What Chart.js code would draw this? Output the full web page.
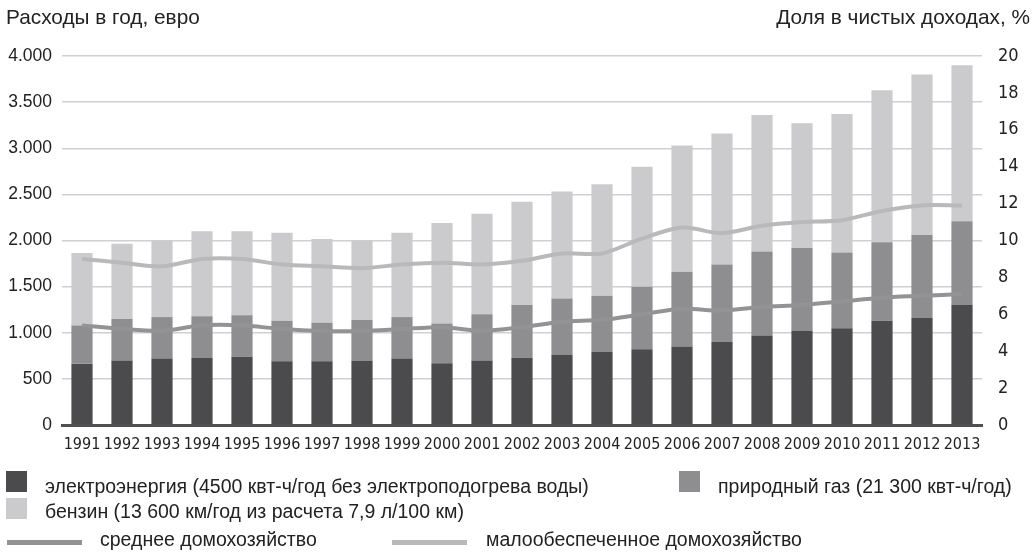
<!DOCTYPE html>
<html lang="ru">
<head>
<meta charset="utf-8">
<script src="https://cdn.jsdelivr.net/npm/chart.js@4.4.1/dist/chart.umd.min.js"></script>
<style>
  html, body { margin: 0; padding: 0; background: #fff; }
  body { width: 1036px; height: 552px; position: relative; overflow: hidden;
         font-family: "Liberation Sans", Arial, sans-serif; color: #222; }
  #wrap { position: absolute; left: 0; top: 0; width: 1036px; height: 552px; }
  .ttl { position: absolute; top: 5px; font-size: 20.8px; line-height: 24px; white-space: nowrap; }
  .lg { position: absolute; font-size: 19.5px; white-space: nowrap; line-height: 22px; }
  .sq { position: absolute; width: 21px; height: 21px; }
  .ln { position: absolute; width: 75px; height: 5px; }
</style>
</head>
<body>
<div id="wrap"><canvas id="chart" width="1036" height="552"></canvas></div>

<div class="ttl" style="left:6px;">Расходы в год, евро</div>
<div class="ttl" style="right:6px;">Доля в чистых доходах, %</div>

<div class="sq" style="left:6px; top:471px; background:#4b4b4d;"></div>
<div class="lg" style="left:45px; top:475px;">электроэнергия (4500 квт-ч/год без электроподогрева воды)</div>
<div class="sq" style="left:679px; top:471px; background:#8e8e91;"></div>
<div class="lg" style="left:718px; top:475px;">природный газ (21 300 квт-ч/год)</div>
<div class="sq" style="left:6px; top:498px; background:#cbcbcd;"></div>
<div class="lg" style="left:45px; top:500px;">бензин (13 600 км/год из расчета 7,9 л/100 км)</div>
<div class="ln" style="left:7px; top:540px; background:#939395;"></div>
<div class="lg" style="left:100px; top:528px;">среднее домохозяйство</div>
<div class="ln" style="left:392px; top:540px; background:#b9b9bb;"></div>
<div class="lg" style="left:486px; top:528px;">малообеспеченное домохозяйство</div>

<script>
// Годы
const years = ["1991","1992","1993","1994","1995","1996","1997","1998","1999","2000","2001",
  "2002","2003","2004","2005","2006","2007","2008","2009","2010","2011","2012","2013"];

// Расходы в год, евро
const electricity = [665, 700, 720, 725, 740, 690, 690, 700, 720, 670, 700,
  730, 760, 790, 820, 850, 900, 970, 1020, 1050, 1130, 1160, 1300];
const naturalGas = [415, 450, 450, 455, 450, 440, 420, 440, 450, 430, 500,
  570, 610, 610, 680, 810, 840, 910, 900, 820, 850, 900, 910];
const petrol = [785, 815, 830, 920, 910, 955, 905, 860, 915, 1090, 1090,
  1120, 1160, 1210, 1300, 1370, 1420, 1480, 1350, 1500, 1650, 1740, 1690];

// Доля в чистых доходах, %
const avgHousehold = [5.4, 5.2, 5.1, 5.4, 5.4, 5.2, 5.1, 5.1, 5.2, 5.3, 5.1,
  5.3, 5.6, 5.7, 6.0, 6.3, 6.2, 6.4, 6.5, 6.7, 6.9, 7.0, 7.1];
const lowIncome = [9.0, 8.8, 8.6, 9.0, 9.0, 8.7, 8.6, 8.5, 8.7, 8.8, 8.7,
  8.9, 9.3, 9.3, 10.1, 10.7, 10.4, 10.8, 11.0, 11.1, 11.6, 11.9, 11.9];

const leftTicks = [0, 500, 1000, 1500, 2000, 2500, 3000, 3500, 4000];
const rightTicks = [0, 2, 4, 6, 8, 10, 12, 14, 16, 18, 20];

const bar = (label, data, color) => ({
  type: "bar", label, data, backgroundColor: color, yAxisID: "y",
  stack: "s", order: 2, barPercentage: 0.53, categoryPercentage: 1
});
const line = (label, data, color) => ({
  type: "line", label, data, borderColor: color, borderWidth: 4,
  pointRadius: 0, tension: 0.3, yAxisID: "y1", order: 1, fill: false
});

const narrow = "'Liberation Sans Narrow', 'DejaVu Sans Condensed', sans-serif";

const ctx = document.getElementById("chart").getContext("2d");
new Chart(ctx, {
  data: {
    labels: years,
    datasets: [
      line("среднее домохозяйство", avgHousehold, "#939395"),
      line("малообеспеченное домохозяйство", lowIncome, "#b9b9bb"),
      bar("электроэнергия", electricity, "#4b4b4d"),
      bar("природный газ", naturalGas, "#8e8e91"),
      bar("бензин", petrol, "#cbcbcd")
    ]
  },
  options: {
    responsive: false,
    animation: false,
    layout: { padding: { top: 56, left: 0, right: 0, bottom: 0 } },
    plugins: { legend: { display: false }, tooltip: { enabled: false } },
    scales: {
      x: {
        stacked: true,
        grid: { display: false },
        border: { display: true, color: "#505052", width: 3 },
        ticks: {
          color: "#222", maxRotation: 0, autoSkip: false, padding: 2,
          font: { family: narrow, size: 16 }
        },
        afterFit: s => { s.height = 127; }
      },
      y: {
        stacked: true, min: 0, max: 4000,
        afterBuildTicks: s => { s.ticks = leftTicks.map(v => ({ value: v })); },
        grid: { color: "#d0d0d2", lineWidth: 1.5, drawTicks: false },
        border: { display: false },
        ticks: {
          color: "#222", padding: 10,
          font: { family: "'Liberation Sans', sans-serif", size: 17.5 },
          callback: v => v >= 1000 ? Math.floor(v / 1000) + "." + String(v % 1000).padStart(3, "0") : String(v)
        },
        afterFit: s => { s.width = 62; }
      },
      y1: {
        position: "right", min: 0, max: 20,
        afterBuildTicks: s => { s.ticks = rightTicks.map(v => ({ value: v })); },
        grid: { display: false },
        border: { display: false },
        ticks: {
          color: "#222", padding: 8,
          font: { family: narrow, size: 18 }
        },
        afterFit: s => { s.width = 54; }
      }
    }
  }
});
</script>
</body>
</html>
